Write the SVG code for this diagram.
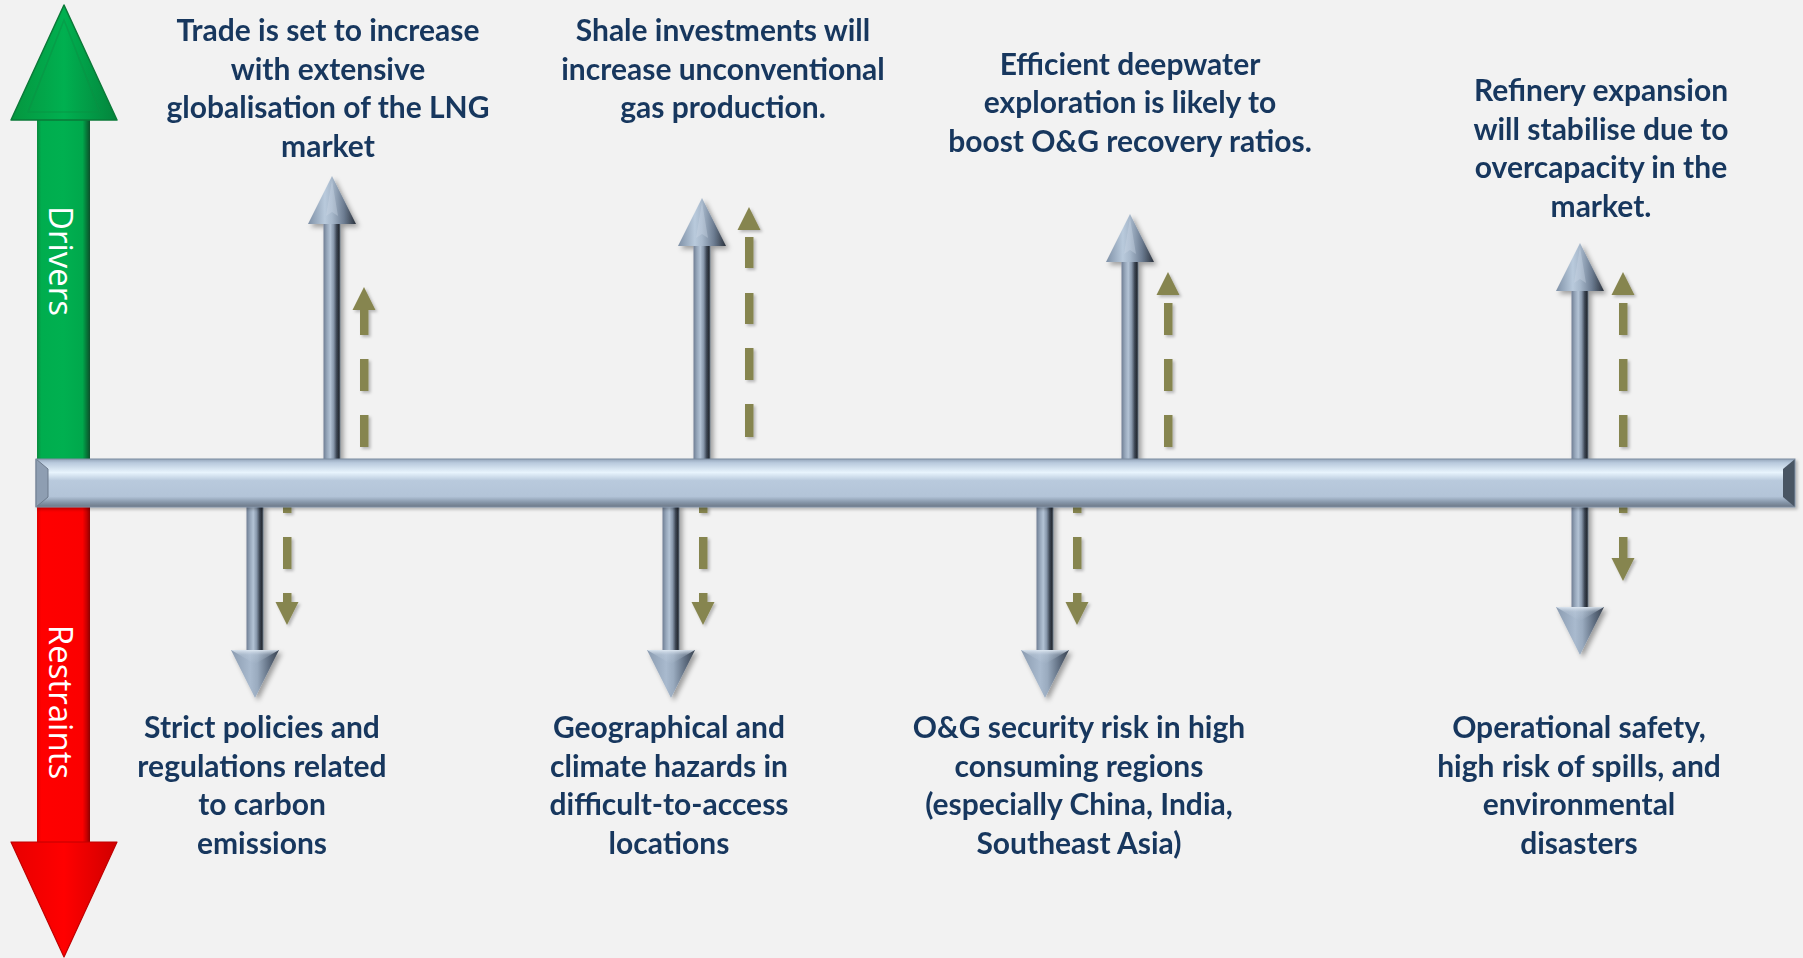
<svg xmlns="http://www.w3.org/2000/svg" xmlns:xlink="http://www.w3.org/1999/xlink" width="1803" height="958" viewBox="0 0 1803 958">
<defs>
<style>
.lbl{font-family:Lato,"Open Sans","Liberation Sans",sans-serif;font-weight:700;font-size:30px;fill:#17375E;text-anchor:middle}
.ax{font-family:"Open Sans","Liberation Sans",sans-serif;font-size:33px;fill:#ffffff;text-anchor:middle}
.shaft{fill:url(#shaftG)}
.uhead{fill:url(#uheadG)}
.dhead{fill:url(#dheadG)}
.olive{fill:#86854F}
</style>
<linearGradient id="shaftG" x1="0" y1="0" x2="1" y2="0">
<stop offset="0" stop-color="#6f7e93"/><stop offset="0.2" stop-color="#95a5b9"/><stop offset="0.4" stop-color="#b3c3d5"/><stop offset="0.6" stop-color="#8797ab"/><stop offset="0.78" stop-color="#3b4452"/><stop offset="0.9" stop-color="#262c35"/><stop offset="1" stop-color="#66737f"/>
</linearGradient>
<linearGradient id="uheadG" x1="0" y1="0" x2="1" y2="0">
<stop offset="0" stop-color="#7e90a6"/><stop offset="0.35" stop-color="#b9cadc"/><stop offset="0.5" stop-color="#a7b8cb"/><stop offset="0.75" stop-color="#6c7c91"/><stop offset="1" stop-color="#2b323d"/>
</linearGradient>
<linearGradient id="dheadG" x1="0" y1="0" x2="1" y2="0">
<stop offset="0" stop-color="#8a9bb0"/><stop offset="0.4" stop-color="#a9bace"/><stop offset="0.55" stop-color="#9aabbf"/><stop offset="0.8" stop-color="#5e6d80"/><stop offset="1" stop-color="#3a4350"/>
</linearGradient>
<linearGradient id="dheadHi" x1="0" y1="0" x2="0" y2="1">
<stop offset="0" stop-color="#e4edf6" stop-opacity="0.9"/><stop offset="0.35" stop-color="#c8d5e3" stop-opacity="0.3"/><stop offset="1" stop-color="#c8d5e3" stop-opacity="0"/>
</linearGradient>
<linearGradient id="barG" x1="0" y1="0" x2="0" y2="1">
<stop offset="0" stop-color="#95a6bb"/><stop offset="0.08" stop-color="#b9cadd"/><stop offset="0.28" stop-color="#e8f4fd"/><stop offset="0.45" stop-color="#b9cadd"/><stop offset="0.78" stop-color="#b3c4d8"/><stop offset="0.9" stop-color="#8797aa"/><stop offset="1" stop-color="#6c7887"/>
</linearGradient>
<linearGradient id="greenS" x1="0" y1="0" x2="1" y2="0">
<stop offset="0" stop-color="#0b8a3e"/><stop offset="0.08" stop-color="#00ad4e"/><stop offset="0.5" stop-color="#00B050"/><stop offset="0.86" stop-color="#00a84c"/><stop offset="0.93" stop-color="#067a3a"/><stop offset="1" stop-color="#0c4f2a"/>
</linearGradient>
<linearGradient id="greenH" x1="0" y1="0" x2="1" y2="0">
<stop offset="0" stop-color="#05963f"/><stop offset="0.5" stop-color="#00B050"/><stop offset="1" stop-color="#04843c"/>
</linearGradient>
<linearGradient id="redS" x1="0" y1="0" x2="1" y2="0">
<stop offset="0" stop-color="#e00000"/><stop offset="0.08" stop-color="#ff0000"/><stop offset="0.86" stop-color="#fb0000"/><stop offset="0.94" stop-color="#c40000"/><stop offset="1" stop-color="#8c0000"/>
</linearGradient>
<linearGradient id="redH" x1="0" y1="0" x2="1" y2="0">
<stop offset="0" stop-color="#e80000"/><stop offset="0.5" stop-color="#ff0000"/><stop offset="1" stop-color="#d00000"/>
</linearGradient>
<filter id="sh" x="-60%" y="-20%" width="220%" height="140%">
<feDropShadow dx="3" dy="3" stdDeviation="2.5" flood-color="#000" flood-opacity="0.35"/>
</filter>
<filter id="shs" x="-60%" y="-20%" width="220%" height="140%">
<feDropShadow dx="2" dy="2" stdDeviation="1.5" flood-color="#000" flood-opacity="0.25"/>
</filter>
<g id="upHead"><polygon class="uhead" points="0,0 24,48 -24,48"/><polygon points="0,4 -6,40 0,36 6,40" fill="#cddbe8" opacity="0.35"/></g>
<g id="downHead"><polygon class="dhead" points="-24,0 24,0 0,48"/><polygon points="-24,0 24,0 0,14" fill="url(#dheadHi)"/></g>
<polygon id="oUp" class="olive" points="0,0 11.5,23 -11.5,23"/>
<polygon id="oDown" class="olive" points="-11.5,0 11.5,0 0,23"/>
</defs>
<rect width="1803" height="958" fill="#f2f2f2"/>

<g id="axis-drivers">
<rect x="37" y="118" width="53" height="345" fill="url(#greenS)"/>
<polygon points="64,5 117,120 11,120" fill="url(#greenH)" stroke="#0a7a38" stroke-width="1.5" stroke-linejoin="round"/>
<polygon points="64,20 100,112 28,112" fill="none" stroke="#0c8f43" stroke-opacity="0.5" stroke-width="1.5"/>
<text class="ax" transform="translate(49,261) rotate(90)">Drivers</text>
</g>
<g id="axis-restraints">
<rect x="37" y="503" width="53" height="341" fill="url(#redS)"/>
<polygon points="11,842 117,842 64,957" fill="url(#redH)" stroke="#c00000" stroke-width="1.2" stroke-linejoin="round"/>
<text class="ax" transform="translate(49,702) rotate(90)">Restraints</text>
</g>

<g id="connectors">
<g filter="url(#sh)">
<rect class="shaft" x="323.5" y="220" width="17" height="242"/><use xlink:href="#upHead" transform="translate(332,176)"/>
<rect class="shaft" x="693.5" y="244" width="17" height="218"/><use xlink:href="#upHead" transform="translate(702,198)"/>
<rect class="shaft" x="1121.5" y="259" width="17" height="203"/><use xlink:href="#upHead" transform="translate(1130,214)"/>
<rect class="shaft" x="1571.5" y="288" width="17" height="174"/><use xlink:href="#upHead" transform="translate(1580,243)"/>
</g>
<g filter="url(#shs)">
<use xlink:href="#oUp" transform="translate(364,287)"/>
<rect class="olive" x="360" y="309" width="8.5" height="26"/><rect class="olive" x="360" y="359" width="8.5" height="32"/><rect class="olive" x="360" y="415" width="8.5" height="32"/>
<use xlink:href="#oUp" transform="translate(749,207)"/>
<rect class="olive" x="745" y="237" width="8.5" height="31"/><rect class="olive" x="745" y="293" width="8.5" height="31"/><rect class="olive" x="745" y="348" width="8.5" height="32"/><rect class="olive" x="745" y="404" width="8.5" height="33"/>
<use xlink:href="#oUp" transform="translate(1168,272)"/>
<rect class="olive" x="1164" y="303" width="8.5" height="32"/><rect class="olive" x="1164" y="359" width="8.5" height="32"/><rect class="olive" x="1164" y="415" width="8.5" height="32"/>
<use xlink:href="#oUp" transform="translate(1623,272)"/>
<rect class="olive" x="1619" y="303" width="8.5" height="32"/><rect class="olive" x="1619" y="359" width="8.5" height="32"/><rect class="olive" x="1619" y="415" width="8.5" height="32"/>
</g>
<g filter="url(#sh)">
<rect class="shaft" x="246.5" y="504" width="17" height="150"/><use xlink:href="#downHead" transform="translate(255,650)"/>
<rect class="shaft" x="662.5" y="504" width="17" height="150"/><use xlink:href="#downHead" transform="translate(671,650)"/>
<rect class="shaft" x="1036.5" y="504" width="17" height="150"/><use xlink:href="#downHead" transform="translate(1045,650)"/>
<rect class="shaft" x="1571.5" y="504" width="17" height="107"/><use xlink:href="#downHead" transform="translate(1580,607)"/>
</g>
<g filter="url(#shs)">
<rect class="olive" x="283" y="505" width="8.5" height="8"/><rect class="olive" x="283" y="537" width="8.5" height="32"/><rect class="olive" x="283" y="593" width="8.5" height="10"/><use xlink:href="#oDown" transform="translate(287,602)"/>
<rect class="olive" x="699" y="505" width="8.5" height="8"/><rect class="olive" x="699" y="537" width="8.5" height="32"/><rect class="olive" x="699" y="593" width="8.5" height="10"/><use xlink:href="#oDown" transform="translate(703,602)"/>
<rect class="olive" x="1073" y="505" width="8.5" height="8"/><rect class="olive" x="1073" y="537" width="8.5" height="32"/><rect class="olive" x="1073" y="593" width="8.5" height="10"/><use xlink:href="#oDown" transform="translate(1077,602)"/>
<rect class="olive" x="1619" y="505" width="8.5" height="8"/><rect class="olive" x="1619" y="537" width="8.5" height="22"/><use xlink:href="#oDown" transform="translate(1623,558)"/>
</g>
</g>

<g id="timeline-bar" filter="url(#shs)">
<rect x="36" y="459" width="1759" height="48" fill="url(#barG)"/>
<polygon points="36,459 48,469 48,497 36,507" fill="#8e9eb2"/>
<polygon points="36,459 48,469 48,497 36,507" fill="none" stroke="#6c7a8c" stroke-width="1"/>
<polygon points="1795,459 1783,469 1783,497 1795,507" fill="#4a5564"/>
<rect x="36" y="459" width="1759" height="48" fill="none" stroke="#7f8ea1" stroke-width="1"/>
</g>

<g id="node-trade">
<text class="lbl" x="328" y="41">Trade is set to increase</text>
<text class="lbl" x="328" y="79.5">with extensive</text>
<text class="lbl" x="328" y="118">globalisation of the LNG</text>
<text class="lbl" x="328" y="156.5">market</text>
</g>
<g id="node-shale">
<text class="lbl" x="723" y="41">Shale investments will</text>
<text class="lbl" x="723" y="79.5">increase unconventional</text>
<text class="lbl" x="723" y="118">gas production.</text>
</g>
<g id="node-deepwater">
<text class="lbl" x="1130" y="74.5">Efficient deepwater</text>
<text class="lbl" x="1130" y="113">exploration is likely to</text>
<text class="lbl" x="1130" y="151.5">boost O&amp;G recovery ratios.</text>
</g>
<g id="node-refinery">
<text class="lbl" x="1601" y="101">Refinery expansion</text>
<text class="lbl" x="1601" y="139.5">will stabilise due to</text>
<text class="lbl" x="1601" y="178">overcapacity in the</text>
<text class="lbl" x="1601" y="216.5">market.</text>
</g>
<g id="node-policies">
<text class="lbl" x="262" y="738">Strict policies and</text>
<text class="lbl" x="262" y="776.5">regulations related</text>
<text class="lbl" x="262" y="815">to carbon</text>
<text class="lbl" x="262" y="853.5">emissions</text>
</g>
<g id="node-hazards">
<text class="lbl" x="669" y="738">Geographical and</text>
<text class="lbl" x="669" y="776.5">climate hazards in</text>
<text class="lbl" x="669" y="815">difficult-to-access</text>
<text class="lbl" x="669" y="853.5">locations</text>
</g>
<g id="node-security">
<text class="lbl" x="1079" y="738">O&amp;G security risk in high</text>
<text class="lbl" x="1079" y="776.5">consuming regions</text>
<text class="lbl" x="1079" y="815">(especially China, India,</text>
<text class="lbl" x="1079" y="853.5">Southeast Asia)</text>
</g>
<g id="node-safety">
<text class="lbl" x="1579" y="738">Operational safety,</text>
<text class="lbl" x="1579" y="776.5">high risk of spills, and</text>
<text class="lbl" x="1579" y="815">environmental</text>
<text class="lbl" x="1579" y="853.5">disasters</text>
</g>
</svg>
